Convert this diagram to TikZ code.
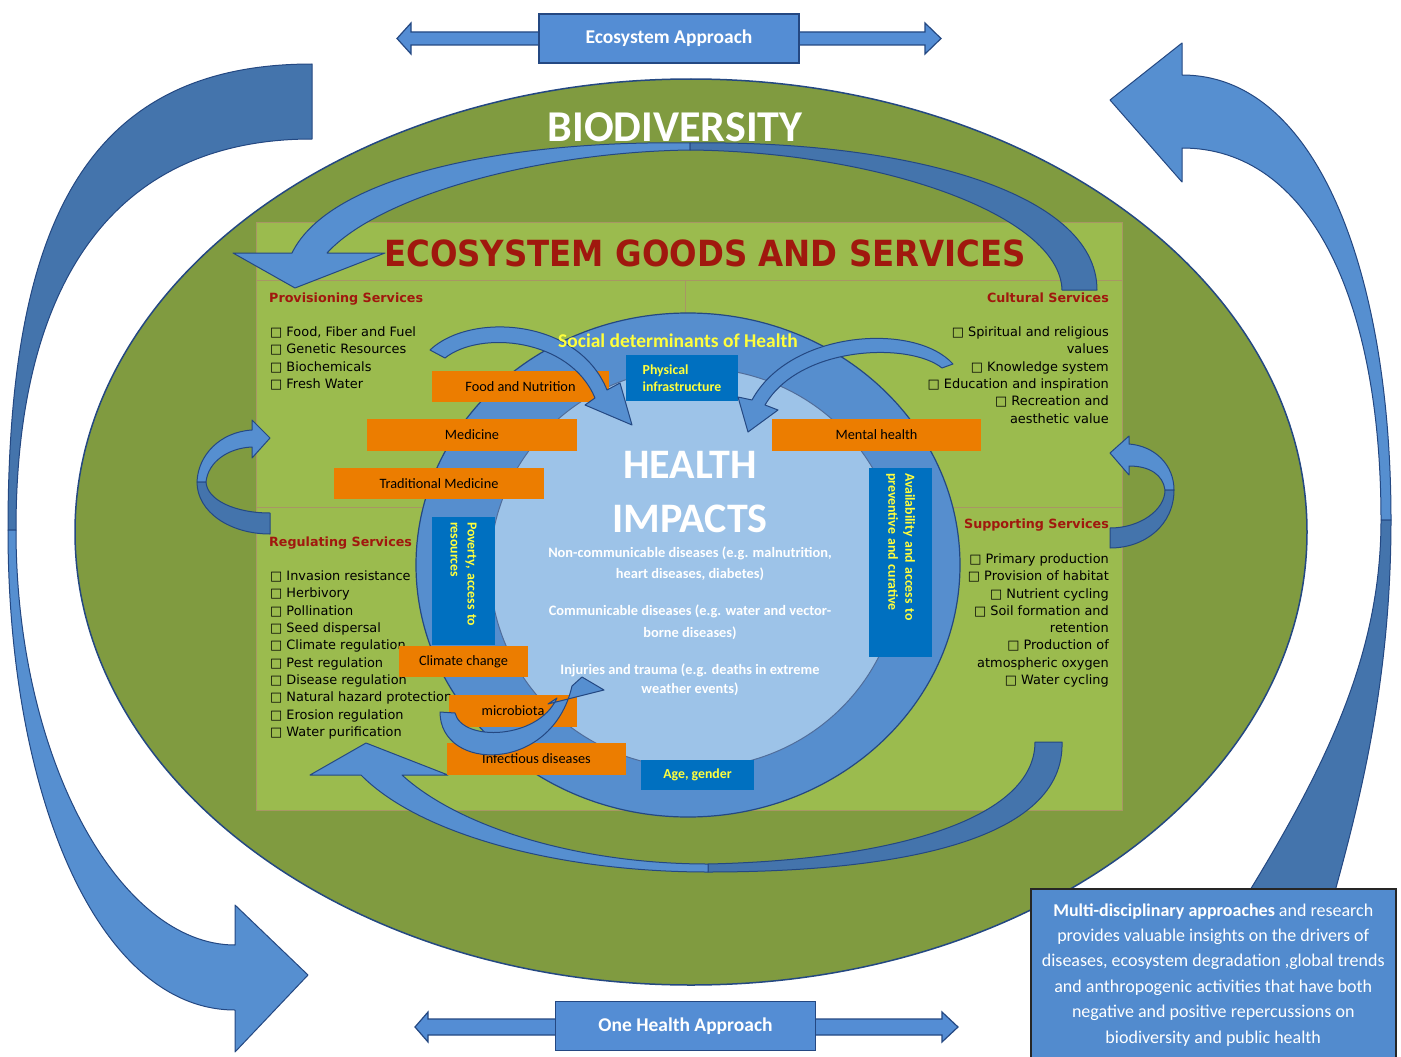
\documentclass[tikz,border=0pt]{standalone}
\usepackage{fontspec}
\setmainfont{Carlito}
\newfontfamily\verdanalike{DejaVu Sans}
\newcommand\setsize[2]{\fontsize{#1}{#2}\selectfont}
\definecolor{ellgreen}{RGB}{128,155,64}
\definecolor{rectgreen}{RGB}{155,187,78}
\definecolor{gridtan}{RGB}{168,150,100}
\definecolor{ringblue}{RGB}{86,142,206}
\definecolor{innerblue}{RGB}{157,195,232}
\definecolor{edgeblue}{RGB}{36,72,130}
\definecolor{arrlight}{RGB}{86,143,208}
\definecolor{arrdark}{RGB}{68,116,172}
\definecolor{apprblue}{RGB}{84,141,212}
\definecolor{multiblue}{RGB}{82,139,206}
\definecolor{boxblue}{RGB}{0,112,192}
\definecolor{boxorange}{RGB}{236,125,0}
\definecolor{darkred}{RGB}{160,24,14}
\definecolor{hlyellow}{RGB}{255,255,60}

\begin{document}
\begin{tikzpicture}[x=1pt,y=-1pt,
        orangebox/.style={fill=boxorange, minimum height=31pt, inner sep=0pt,
        font=\setsize{14.3}{16}},
        bluebox/.style={fill=boxblue, text=hlyellow, inner sep=0pt,
        font=\bfseries\setsize{13.8}{17}},
        listitem/.style={inner sep=0pt, font=\verdanalike\setsize{12.9}{15}},
        svchead/.style={inner sep=0pt, text=darkred,
        font=\verdanalike\bfseries\setsize{12.7}{15}},
        impact/.style={inner sep=0pt, text=white, font=\bfseries\setsize{14.4}{16}},
        bandfront/.style={fill=arrlight, draw=edgeblue, line width=1pt, line join=round},
        bandback/.style={fill=arrdark, draw=edgeblue, line width=1pt, line join=round},
        approach/.style={fill=apprblue, draw=edgeblue, line width=1.2pt, text=white,
        font=\bfseries\setsize{19.5}{22}, minimum width=260pt, minimum height=49pt}]
        \fill[white] (0,0) rectangle (1401,1057);
        \useasboundingbox (0,0) rectangle (1401,1057);

        \draw[bandback] (312,64) .. controls (84,64) and (8,227) .. (8,530) -- (16,530)
            .. controls (16,295) and (105,139) .. (312,139) -- cycle;
        \draw[bandfront] (8,530) .. controls (8,800) and (100,1010) .. (235,1010) -- (235,1052)
            -- (308,975) -- (235,905) -- (235,945) .. controls (120,945) and (16,760) .. (16,530) -- cycle;
        \draw[bandfront] (1182,75) .. controls (1320,75) and (1391,280) .. (1391,520) -- (1381,520)
            .. controls (1381,300) and (1310,148) .. (1182,148) -- (1182,182) -- (1110,100) -- (1182,43) -- cycle;
        \draw[bandback] (1391,520) .. controls (1391,680) and (1360,800) .. (1334,895) -- (1247,895)
            .. controls (1330,760) and (1381,650) .. (1381,520) -- cycle;

        \draw[fill=apprblue, draw=edgeblue, line width=1.2pt] (397,38.5) -- (411,23) -- (411,32) -- (925,32)
            -- (925,23) -- (941,38.5) -- (925,54) -- (925,45) -- (411,45) -- (411,54) -- cycle;
        \node[approach] (ecoapp) at (669,38.5) {Ecosystem Approach};
        \draw[fill=apprblue, draw=edgeblue, line width=1.2pt] (415,1027) -- (428,1012) -- (428,1019) -- (942,1019)
            -- (942,1012) -- (958,1027) -- (942,1042) -- (942,1035) -- (428,1035) -- (428,1042) -- cycle;
        \node[approach] (oneapp) at (685.5,1026) {One Health Approach};

        \draw[fill=ellgreen, draw=edgeblue, line width=1.5pt] (691,532) ellipse [x radius=616, y radius=453];
        \node[inner sep=0pt, text=white, font=\bfseries\setsize{44}{50}] (biodiv) at (675,127) {BIODIVERSITY};

        \draw[fill=rectgreen, draw=gridtan, line width=1pt] (256,222) rectangle (1122,810);
        \draw[gridtan, line width=1pt] (256,280) -- (1122,280) (256,507) -- (1122,507) (685,280) -- (685,810);

        \draw[bandfront] (292,253) .. controls (330,175) and (510,140) .. (690,143) -- (690,150)
            .. controls (540,152) and (380,195) .. (327,253) -- (385,253) -- (295,288) -- (233,253) -- cycle;
        \draw[bandback] (690,143) .. controls (900,140) and (1097,190) .. (1097,290) -- (1062,290)
            .. controls (1060,215) and (880,152) .. (690,150) -- cycle;
        \draw[bandback] (708,872) .. controls (900,872) and (1065,840) .. (1062,742) -- (1035,742)
            .. controls (1035,820) and (890,860) .. (708,864) -- cycle;
        \draw[bandfront] (708,872) .. controls (560,872) and (420,835) .. (361,775) -- (310,775) -- (366,743)
            -- (448,775) -- (402,775) .. controls (460,828) and (580,864) .. (708,864) -- cycle;
        \draw[bandfront] (252,430) .. controls (220,432) and (198,455) .. (197,482) -- (206,482)
            .. controls (208,462) and (228,448) .. (252,447) -- (252,458) -- (270,438) -- (252,420) -- cycle;
        \draw[bandback] (197,482) .. controls (197,512) and (230,534) .. (270,534) -- (270,513)
            .. controls (235,513) and (207,500) .. (206,482) -- cycle;
        \draw[bandfront] (1129,444) .. controls (1155,446) and (1174,465) .. (1174,490) -- (1165,490)
            .. controls (1163,475) and (1150,466) .. (1129,466) -- (1129,475) -- (1110,453) -- (1129,436) -- cycle;
        \draw[bandback] (1174,490) .. controls (1174,525) and (1145,548) .. (1110,548) -- (1110,528)
            .. controls (1140,528) and (1165,510) .. (1165,490) -- cycle;

        \draw[fill=ringblue, draw=edgeblue, line width=1.2pt] (688,565) ellipse [x radius=272, y radius=252];
        \draw[fill=innerblue, draw=edgeblue!80, line width=1pt] (695,568) ellipse [x radius=205, y radius=200];

        \node[inner sep=0pt, text=darkred, font=\verdanalike\bfseries\setsize{36}{40}] (title) at (705,253)
            {\scalebox{0.9}[1]{ECOSYSTEM GOODS AND SERVICES}};
        \node[svchead, anchor=base west] (provhead) at (269,302.5) {Provisioning Services};
        \node[svchead, anchor=base east] (culthead) at (1109,302.5) {Cultural Services};
        \node[svchead, anchor=base west] (reghead) at (269,546.5) {Regulating Services};
        \node[svchead, anchor=base east] (supphead) at (1109,528.5) {Supporting Services};

        \foreach \txt [count=\i] in {{Food, Fiber and Fuel},Genetic Resources,Biochemicals,Fresh Water}
            \node[listitem, anchor=base west] (prov\i) at (270,319.2+17.3*\i) {□ \txt};
        \foreach \txt [count=\i] in {Invasion resistance,Herbivory,Pollination,Seed dispersal,
            Climate regulation,Pest regulation,Disease regulation,Natural hazard protection,
            Erosion regulation,Water purification}
            \node[listitem, anchor=base west] (reg\i) at (270,563.2+17.33*\i) {□ \txt};
        \foreach \txt [count=\i] in {□ Spiritual and religious,values,□ Knowledge system,
            □ Education and inspiration,□ Recreation and,aesthetic value}
            \node[listitem, anchor=base east] (cult\i) at (1109,319.2+17.3*\i) {\txt};
        \foreach \txt [count=\i] in {□ Primary production,□ Provision of habitat,□ Nutrient cycling,
            □ Soil formation and,retention,□ Production of,atmospheric oxygen,□ Water cycling}
            \node[listitem, anchor=base east] (supp\i) at (1109,546.25+17.25*\i) {\txt};

        \node[orangebox, minimum width=177pt] (food) at (520.5,386.5) {Food and Nutrition};
        \node[orangebox, minimum width=210pt, minimum height=32pt] (medicine) at (472,435) {Medicine};
        \node[orangebox, minimum width=210pt] (tradmed) at (439,483.5) {Traditional Medicine};
        \node[orangebox, minimum width=209pt, minimum height=32pt] (mental) at (876.5,435) {Mental health};
        \node[bluebox, rotate=-90, minimum height=63pt, text width=118pt, inner xsep=5pt, align=left]
            (poverty) at (463.5,581) {Poverty, access to\\resources};
        \node[bluebox, rotate=-90, minimum height=63pt, text width=179pt, inner xsep=5pt, align=left]
            (avail) at (900.5,562.5) {Availability and access to\\preventive and curative};
        \node[orangebox, minimum width=129pt] (climate) at (463.5,661.5) {Climate change};
        \node[orangebox, minimum width=128pt, minimum height=32pt] (microbiota) at (513,711) {microbiota};
        \node[orangebox, minimum width=179pt, minimum height=32pt] (infect) at (536.5,759) {Infectious diseases};
        \node[bluebox, minimum width=112pt, minimum height=46pt, align=left] (phys) at (682,378)
            {Physical\\infrastructure};
        \node[bluebox, minimum width=113pt, minimum height=30pt] (age) at (697.5,775) {Age, gender};

        \draw[bandfront] (430,350) .. controls (470,312) and (578,318) .. (607,390) -- (620,383) -- (632,425)
            -- (585,405) -- (595,398) .. controls (570,338) and (480,330) .. (445,358) -- cycle;
        \draw[bandfront] (953,364) .. controls (915,322) and (790,330) .. (752,400) -- (738,397) -- (748,432)
            -- (778,410) -- (765,405) .. controls (800,345) and (910,342) .. (942,368) -- cycle;
        \draw[bandfront] (440,712) .. controls (440,772) and (552,774) .. (572,686) -- (582,677) -- (604,690)
            -- (548,704) -- (557,698) .. controls (538,740) and (462,742) .. (455,713) -- cycle;

        \node[inner sep=0pt, text=hlyellow, font=\bfseries\setsize{19.5}{22}] (socdet) at (678,341)
            {Social determinants of Health};
        \node[inner sep=0pt, text=white, font=\bfseries\setsize{42}{46}] (health) at (690,465) {HEALTH};
        \node[inner sep=0pt, text=white, font=\bfseries\setsize{42}{46}] (impacts) at (690,519) {IMPACTS};
        \foreach \y/\txt [count=\i] in {557.5/{Non-communicable diseases (e.g. malnutrition,},
            578.5/{heart diseases, diabetes)},615.5/{Communicable diseases (e.g. water and vector-},
            637.5/{borne diseases)},674.5/{Injuries and trauma (e.g. deaths in extreme},693.5/{weather events)}}
            \node[impact, anchor=base] (imp\i) at (690,\y) {\txt};

        \node[fill=multiblue, draw=black!85, line width=1.5pt, anchor=north west, inner sep=0pt,
            minimum width=365pt, minimum height=172pt, text=white, align=center,
            font=\setsize{18}{25.4}] (multi) at (1030,888)
            {\textbf{Multi-disciplinary approaches} and research\\provides valuable insights on the drivers of\\
            diseases, ecosystem degradation ,global trends\\and anthropogenic activities that have both\\
            negative and positive repercussions on\\biodiversity and public health};
\end{tikzpicture}
\end{document}
